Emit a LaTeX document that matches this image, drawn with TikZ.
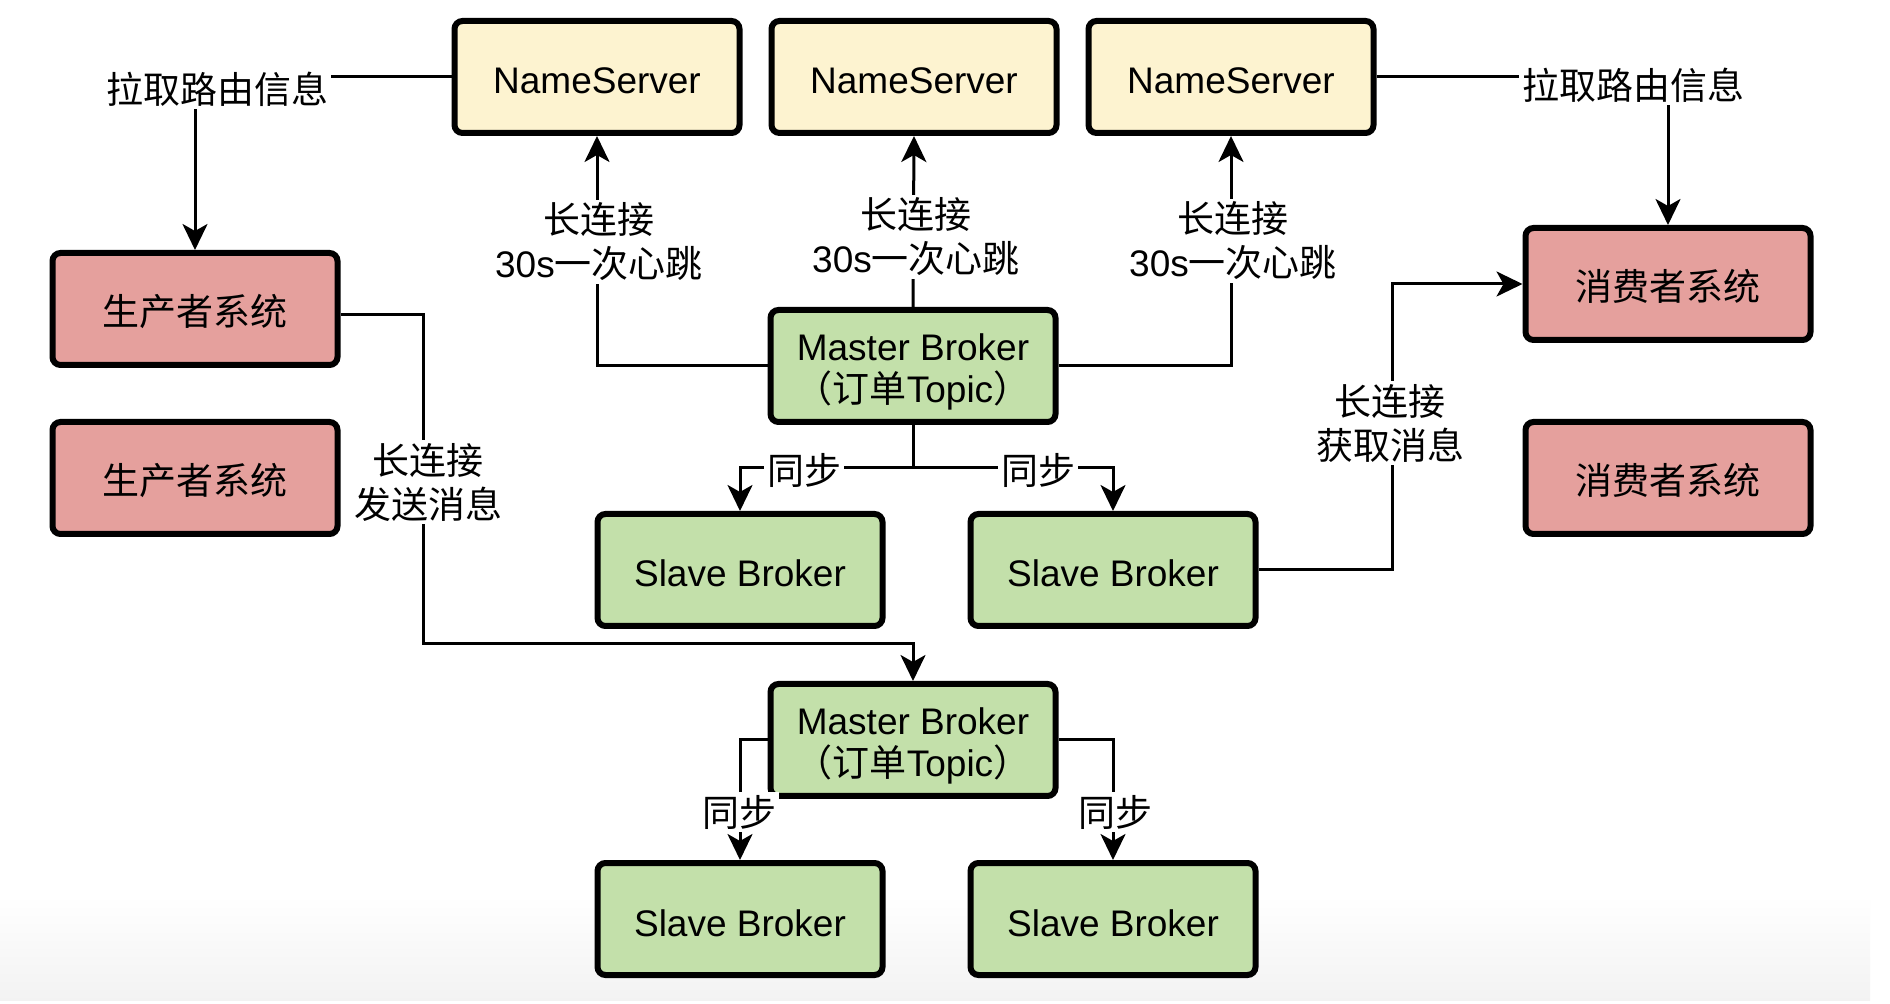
\documentclass[tikz,border=0pt]{standalone}
\usepackage{fontspec}
\setmainfont{Liberation Sans}
\newfontfamily\zhfont{Noto Sans CJK SC}
\usetikzlibrary{arrows.meta}
\definecolor{nsfill}{RGB}{253,243,208}
\definecolor{redfill}{RGB}{229,160,157}
\definecolor{greenfill}{RGB}{195,224,170}
\begin{document}
\begin{tikzpicture}[x=0.5pt,y=-0.5pt,
  box/.style={draw=black, line width=3pt, rounded corners=4pt, minimum width=142.5pt, minimum height=56pt, inner sep=0pt, align=center, font=\fontsize{18.5pt}{21pt}\selectfont},
  one/.style={text height=17pt, text depth=0pt},
  ns/.style={box, one, fill=nsfill},
  sys/.style={box, one, fill=redfill},
  brk/.style={box, fill=greenfill},
  slv/.style={brk, one},
  conn/.style={line width=1.5pt},
  arr/.style={conn, -{Stealth[length=13pt,width=12.5pt,inset=3.5pt]}},
  lbl/.style={fill=white, inner sep=1.5pt, align=center, font=\fontsize{18.5pt}{22pt}\selectfont}
]
\fill[white] (0,0) rectangle (1890,1004);
\useasboundingbox (0,0) rectangle (1890,1004);
\shade[top color=white, bottom color=black!5] (0,895) rectangle (1870,1000);

% nodes
\node[ns] (ns1) at (597,77) {NameServer};
\node[ns] (ns2) at (914,77) {NameServer};
\node[ns] (ns3) at (1231,77) {NameServer};
\node[sys] (p1) at (195,309) {\zhfont 生产者系统};
\node[sys] (p2) at (195,478) {\zhfont 生产者系统};
\node[sys] (c1) at (1668,284) {\zhfont 消费者系统};
\node[sys] (c2) at (1668,478) {\zhfont 消费者系统};
\node[brk] (m1) at (913,366) {\rule{0pt}{19.3pt}Master Broker\\\hspace*{-0.45em}{\zhfont （订单}Topic{\zhfont ）}\hspace*{-0.45em}};
\node[slv] (s1) at (740,570) {Slave Broker};
\node[slv] (s2) at (1113,570) {Slave Broker};
\node[brk] (m2) at (913,740) {\rule{0pt}{19.3pt}Master Broker\\\hspace*{-0.45em}{\zhfont （订单}Topic{\zhfont ）}\hspace*{-0.45em}};
\node[slv] (s3) at (740,919) {Slave Broker};
\node[slv] (s4) at (1113,919) {Slave Broker};

% helper coordinates
\coordinate (j1) at (913,468);
\coordinate (k1) at (1392,284);
\coordinate (q1) at (423,644);

% connectors
\draw[arr] (ns1.west) -| (p1.north);
\draw[arr] (ns3.east) -| (c1.north);
\draw[arr] (m1.west) -| (ns1.south);
\draw[arr] (m1.north) -- (ns2.south);
\draw[arr] (m1.east) -| (ns3.south);
\draw[conn] (m1.south) -- (j1);
\draw[arr] (j1) -| (s1.north);
\draw[arr] (j1) -| (s2.north);
\draw[arr] (s2.east) -| (k1) -- (c1.west);
\draw[arr] ([yshift=-3pt]p1.east) -| (q1) -| (m2.north);
\draw[arr] (m2.west) -| (s3.north);
\draw[arr] (m2.east) -| (s4.north);

% labels
\node[lbl] (l1) at (217,89) {\zhfont 拉取路由信息};
\node[lbl] (l2) at (1633,85) {\zhfont 拉取路由信息};
\node[lbl] (l3) at (599,242) {{\zhfont 长连接}\\30s{\zhfont 一次心跳}};
\node[lbl] (l4) at (916,237) {{\zhfont 长连接}\\30s{\zhfont 一次心跳}};
\node[lbl] (l5) at (1233,241) {{\zhfont 长连接}\\30s{\zhfont 一次心跳}};
\node[lbl] (l6) at (804,470) {\zhfont 同步};
\node[lbl] (l7) at (1038,470) {\zhfont 同步};
\node[lbl] (l8) at (1390,423) {{\zhfont 长连接}\\{\zhfont 获取消息}};
\node[lbl] (l9) at (428,482) {{\zhfont 长连接}\\{\zhfont 发送消息}};
\node[lbl] (l10) at (739,812) {\zhfont 同步};
\node[lbl] (l11) at (1115,812) {\zhfont 同步};
\end{tikzpicture}
\end{document}
